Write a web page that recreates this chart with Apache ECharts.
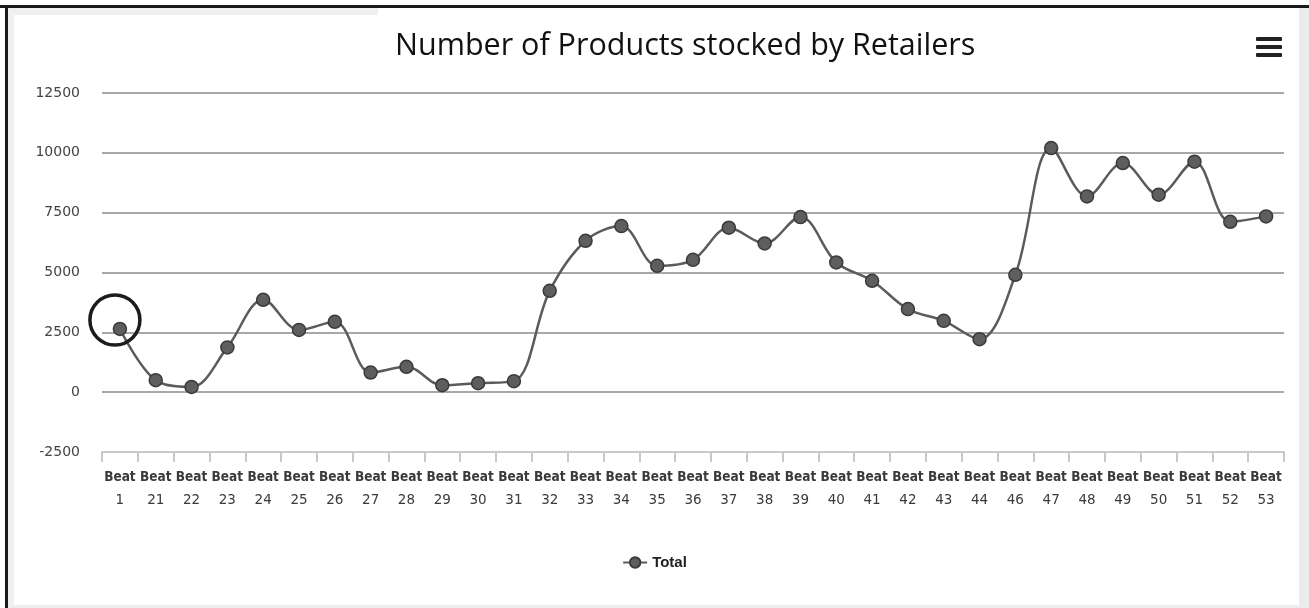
<!DOCTYPE html>
<html>
<head>
<meta charset="utf-8">
<script src="https://cdn.jsdelivr.net/npm/echarts@6/dist/echarts.min.js"></script>
<style>
html,body{margin:0;padding:0;background:#fff;}
#chart{width:1309px;height:608px;}
</style>
</head>
<body>
<div id="chart"></div>
<script>
var categories = ['Beat 1','Beat 21','Beat 22','Beat 23','Beat 24','Beat 25','Beat 26','Beat 27','Beat 28','Beat 29','Beat 30','Beat 31','Beat 32','Beat 33','Beat 34','Beat 35','Beat 36','Beat 37','Beat 38','Beat 39','Beat 40','Beat 41','Beat 42','Beat 43','Beat 44','Beat 46','Beat 47','Beat 48','Beat 49','Beat 50','Beat 51','Beat 52','Beat 53'];
var totalValues = [2640,500,220,1870,3860,2600,2940,820,1060,290,375,460,4235,6325,6940,5280,5530,6870,6215,7316,5420,4655,3470,2980,2215,4905,10200,8180,9575,8250,9630,7120,7345];
var yTicks = {min:-2500, max:12500, interval:2500};
var chartTitle = 'Number of Products stocked by Retailers';
var seriesName = 'Total';
var highlightIndex = 0;

var chart = echarts.init(document.getElementById('chart'), null, {renderer:'canvas'});
chart.setOption({
  backgroundColor:'#ffffff',
  animation:false,
  title:{
    text: chartTitle,
    left:390,
    top:26,
    textStyle:{fontFamily:'Open Sans', fontSize:30.5, fontWeight:'normal', color:'#111'}
  },
  legend:{
    data:[seriesName],
    left:'center',
    top:550,
    itemWidth:24,
    itemHeight:13,
    itemGap:9,
    textStyle:{fontFamily:'Liberation Sans', fontSize:15, fontWeight:'bold', color:'#222'}
  },
  grid:{left:102, right:25, top:93, bottom:156, containLabel:false},
  xAxis:{
    type:'category',
    data:categories,
    boundaryGap:true,
    axisLine:{show:true, onZero:false, lineStyle:{color:'#c8c8c8', width:2}},
    axisTick:{show:true, length:10, lineStyle:{color:'#c8c8c8', width:2}},
    axisLabel:{
      interval:0,
      margin:14,
      formatter:function(v){var p=v.split(' ');return '{a|'+p[0]+'}\n{b|'+p[1]+'}';},
      rich:{
        a:{fontFamily:'DejaVu Sans Condensed', fontWeight:'bold', fontSize:13.5, color:'#3a3a3a', lineHeight:23},
        b:{fontFamily:'DejaVu Sans', fontSize:13.5, color:'#3a3a3a', lineHeight:23}
      }
    }
  },
  yAxis:{
    type:'value',
    min:yTicks.min, max:yTicks.max, interval:yTicks.interval,
    axisLine:{show:false},
    axisTick:{show:false},
    axisLabel:{fontFamily:'DejaVu Sans', fontSize:14, color:'#444', margin:22, formatter:function(v){return String(v);}},
    splitLine:{lineStyle:{color:'#a8a8a8', width:2}}
  },
  series:[{
    name:seriesName,
    type:'line',
    data:totalValues,
    smooth:0.35,
    symbol:'circle',
    symbolSize:13,
    lineStyle:{color:'#5b5b5b', width:2.5},
    itemStyle:{color:'#5e5e5e', borderColor:'#3a3a3a', borderWidth:1.5},
    markPoint:{
      symbol:'circle',
      symbolSize:50,
      symbolOffset:[-5,-9],
      label:{show:false},
      itemStyle:{color:'rgba(0,0,0,0)', borderColor:'#1c1c1c', borderWidth:3.5},
      data:[{coord:[highlightIndex, totalValues[highlightIndex]]}]
    }
  }],
  graphic:[
    {type:'rect', shape:{x:0,y:0,width:1309,height:6}, style:{fill:'#ffffff'}},
    {type:'rect', shape:{x:8,y:8,width:370,height:7}, style:{fill:'#efefef'}},
    {type:'rect', shape:{x:8,y:8,width:6,height:600}, style:{fill:'#f0f0f0'}},
    {type:'rect', shape:{x:0,y:5,width:1309,height:3}, style:{fill:'#1a1a1a'}},
    {type:'rect', shape:{x:5,y:5,width:3,height:603}, style:{fill:'#1a1a1a'}},
    {type:'rect', shape:{x:1299,y:8,width:10,height:600}, style:{fill:'#ebebeb'}},
    {type:'rect', shape:{x:8,y:605,width:1291,height:3}, style:{fill:'#ededed'}},
    {type:'rect', shape:{x:1256,y:37,width:26,height:4, r:1}, style:{fill:'#222'}},
    {type:'rect', shape:{x:1256,y:45,width:26,height:4, r:1}, style:{fill:'#222'}},
    {type:'rect', shape:{x:1256,y:53,width:26,height:4, r:1}, style:{fill:'#222'}}
  ]
});
</script>
</body>
</html>
